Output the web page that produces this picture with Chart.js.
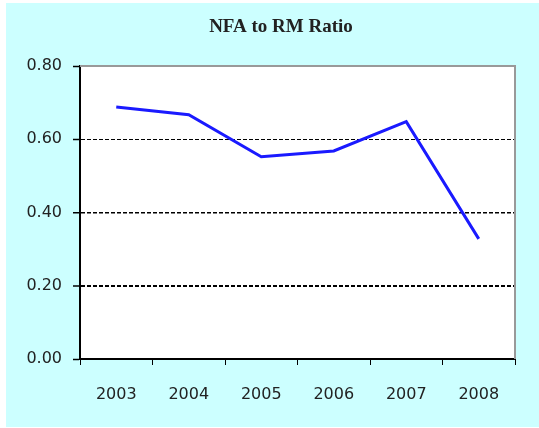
<!DOCTYPE html>
<html>
<head>
<meta charset="utf-8">
<script src="https://cdn.jsdelivr.net/npm/chart.js@4"></script>
<style>
  html, body { margin: 0; padding: 0; background: #ffffff; }
  #wrap { width: 539px; height: 428px; }
</style>
</head>
<body>
<div id="wrap"><canvas id="chart" width="539" height="428"></canvas></div>
<script>
// values
const years = ['2003', '2004', '2005', '2006', '2007', '2008'];
const nfaToRm = [0.688, 0.667, 0.552, 0.568, 0.648, 0.328];
const yTicks = [0, 0.2, 0.4, 0.6, 0.8];
const chartTitle = 'NFA to RM Ratio';

// cyan panel + white plot area + grey frame on top/right + title
const panelPlugin = {
    id: 'panel',
    beforeDraw(chart) {
        const ctx = chart.ctx;
        const a = chart.chartArea;
        ctx.save();
        ctx.fillStyle = '#ccffff';
        ctx.fillRect(6, 3, 533, 424);
        ctx.fillStyle = '#ffffff';
        ctx.fillRect(a.left, a.top, a.right - a.left, a.bottom - a.top);
        ctx.restore();
    },
    afterDatasetsDraw(chart) {
        const ctx = chart.ctx;
        const a = chart.chartArea;
        ctx.save();
        ctx.strokeStyle = '#999999';
        ctx.lineWidth = 2;
        ctx.beginPath();
        ctx.moveTo(a.left, a.top);
        ctx.lineTo(a.right, a.top);
        ctx.lineTo(a.right, a.bottom);
        ctx.stroke();

        // title sits a little right of the canvas centre in the original
        ctx.fillStyle = '#222222';
        ctx.font = 'bold 19px "Liberation Serif", "Times New Roman", serif';
        ctx.textAlign = 'center';
        ctx.textBaseline = 'alphabetic';
        ctx.fillText(chartTitle, 281, 32);
        ctx.restore();
    }
};

new Chart(document.getElementById('chart'), {
    type: 'line',
    data: {
        labels: years,
        datasets: [{
            label: chartTitle,
            data: nfaToRm,
            borderColor: '#1a1aff',
            borderWidth: 3,
            tension: 0,
            pointRadius: 0,
            fill: false
        }]
    },
    options: {
        responsive: false,
        animation: false,
        layout: { padding: { left: 0, right: 24, top: 66, bottom: 0 } },
        plugins: {
            legend: { display: false },
            tooltip: { enabled: false },
            title: { display: false }
        },
        scales: {
            x: {
                offset: true,
                afterFit(scale) { scale.height = 69; },
                grid: {
                    offset: true,
                    drawOnChartArea: false,
                    drawTicks: true,
                    tickLength: 6,
                    color: '#000000'
                },
                border: { color: '#000000', width: 2 },
                ticks: {
                    color: '#222222',
                    padding: 20,
                    maxRotation: 0,
                    font: { family: '"DejaVu Sans", sans-serif', size: 16 }
                }
            },
            y: {
                min: 0,
                max: 0.8,
                afterFit(scale) { scale.width = 80; },
                afterBuildTicks(scale) { scale.ticks = yTicks.map(v => ({ value: v })); },
                grid: {
                    color: c => (c.tick && c.tick.value >= 0.8 ? 'rgba(0,0,0,0)' : '#000000'),
                    lineWidth: c => {
                        if (!c.tick) return 1;
                        if (c.tick.value === 0.2) return 2;
                        if (c.tick.value === 0.4) return 1.5;
                        return 1;
                    },
                    tickColor: '#000000',
                    tickWidth: 1.5,
                    tickLength: 7
                },
                border: {
                    color: '#000000',
                    width: 2,
                    dash: c => (c.tick && c.tick.value > 0.01 && c.tick.value < 0.79 ? [4, 2] : [])
                },
                ticks: {
                    color: '#222222',
                    padding: 11,
                    font: { family: '"DejaVu Sans", sans-serif', size: 16 },
                    callback: v => Number(v).toFixed(2)
                }
            }
        }
    },
    plugins: [panelPlugin]
});
</script>
</body>
</html>
